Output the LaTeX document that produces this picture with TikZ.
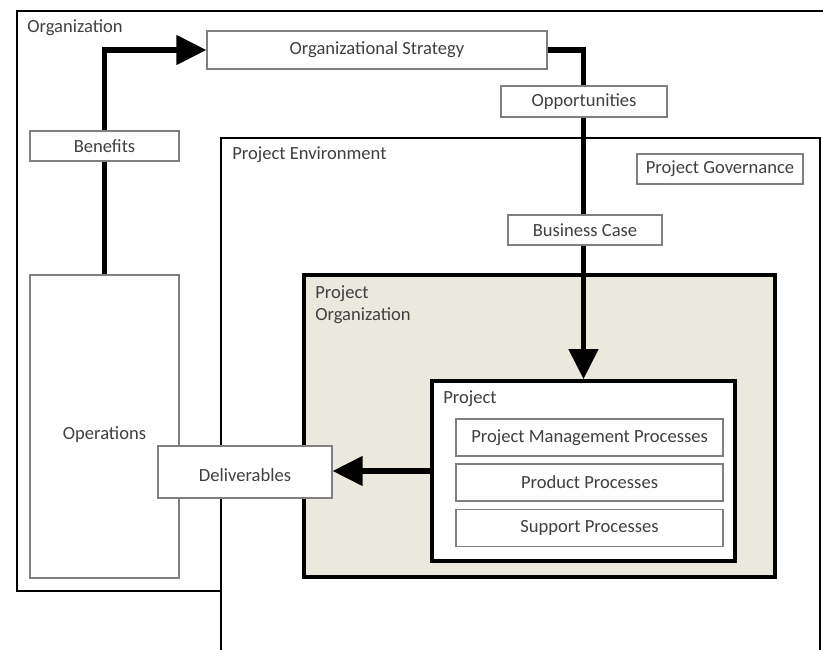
\documentclass[tikz,border=0pt]{standalone}
\usepackage{fontspec}
\setmainfont{Carlito}
\usepackage{tikz}
\usetikzlibrary{arrows.meta}
\definecolor{boxgray}{RGB}{128,128,128}
\definecolor{txtgray}{RGB}{64,64,64}
\definecolor{porgfill}{RGB}{235,232,222}

\begin{document}
\begin{tikzpicture}[x=0.025cm, y=-0.025cm,
    every node/.style={font=\fontsize{13.2}{16}\selectfont, text=txtgray},
    smallbox/.style={draw=boxgray, fill=white, line width=0.8pt, inner sep=0pt},
    bigbox/.style={draw=black, line width=2.6pt, inner sep=0pt},
    flow/.style={line width=3.6pt, -{Triangle[length=0.75cm, width=0.72cm]}},
    title/.style={anchor=west, inner sep=0pt, align=left}]
    \useasboundingbox (0, 0) rectangle (823, 650);

    % outer boxes
    \draw [line width=1.9pt] (850, 11) -| (17, 591) -- (221, 591);
    \draw [line width=1.6pt, fill=white] (221, 138) rectangle (820, 700);
    \node [smallbox, minimum width=3.725cm, minimum height=7.575cm, text height=20pt] (ops) at (104.5, 426.5) {Operations};
    \draw [bigbox, fill=porgfill] (304, 275) rectangle (775, 577);
    \node [bigbox, fill=white, minimum width=7.575cm, minimum height=4.5cm] (project) at (583.5, 471) {};

    % processes
    \node [smallbox, minimum width=6.675cm, minimum height=0.925cm] (pmproc) at (589.5, 437.5) {Project Management Processes};
    \node [smallbox, minimum width=6.675cm, minimum height=0.925cm] (prodproc) at (589.5, 482.5) {Product Processes};
    \node [smallbox, minimum width=6.675cm, minimum height=0.925cm] (suppproc) at (589.5, 528) {Support Processes};

    \node [smallbox, minimum width=8.5cm, minimum height=0.95cm] (strategy) at (377, 50) {Organizational Strategy};
    \node [smallbox, minimum width=4.35cm, minimum height=1.3cm, text height=14pt] (deliv) at (245, 472) {Deliverables};

    % flows
    \draw [flow] (ops.north) |- (strategy.west);
    \draw [flow] (strategy.east) -| (project.north);
    \draw [flow] (project.west) -- (project.west -| deliv.east);

    \node [smallbox, minimum width=3.725cm, minimum height=0.75cm] (benefits) at (104.5, 146) {Benefits};
    \node [smallbox, minimum width=4.15cm, minimum height=0.775cm] (opport) at (584, 101.5) {Opportunities};
    \node [smallbox, minimum width=3.85cm, minimum height=0.75cm] (bcase) at (585, 230) {Business Case};
    \node [smallbox, minimum width=4.15cm, minimum height=0.75cm] (govern) at (720, 169) {Project Governance};

    % titles
    \node [title] (orgtitle) at (27, 28) {Organization};
    \node [title] (envtitle) at (232, 155) {Project Environment};
    \node [title, anchor=north west] (porgtitle) at (315, 285) {Project\\Organization};
    \node [title] (projtitle) at (443, 399) {Project};
\end{tikzpicture}
\end{document}
